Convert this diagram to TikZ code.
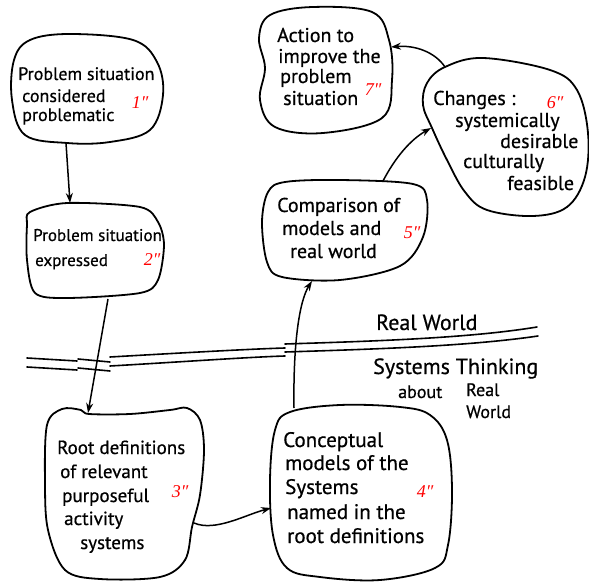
\documentclass[tikz,border=0pt]{standalone}
\usepackage{fontspec}
\setmainfont{PT Sans}[FakeBold=0.6]
\newfontfamily\labfont{Liberation Serif}
\usetikzlibrary{arrows.meta}
\tikzset{
  blob/.style={draw=black,line width=1.8pt,line join=round},
  conn/.style={draw=black,line width=1.5pt,-{Stealth[length=10pt,width=7pt]}},
  rule/.style={draw=black,line width=1.6pt,line cap=round},
  txt/.style={anchor=base west,inner sep=0pt,font=\fontsize{20}{24}\selectfont},
  txta/.style={txt,font=\fontsize{18}{22}\selectfont},
  txtb/.style={txt,font=\fontsize{17}{21}\selectfont},
  txtc/.style={txt,font=\fontsize{19}{23}\selectfont},
  txtd/.style={txt,font=\fontsize{21}{25}\selectfont},
  txtbig/.style={txt,font=\fontsize{22}{26}\selectfont},
  lab/.style={inner sep=0pt,text=red,font=\labfont\itshape\fontsize{18}{20}\selectfont}
}
\begin{document}
\begin{tikzpicture}[x=1pt,y=-1pt]
\useasboundingbox (0,0) rectangle (589,585);
% ---- blobs ----
\draw[blob] plot[smooth cycle,tension=0.6] coordinates {(14,60)(30,40)(70,34)(133,40)(157,62)(163,95)(150,130)(110,142)(67,143)(25,135)(12,100)};
\draw[blob] plot[smooth cycle,tension=0.5] coordinates {(30,212)(67,203)(140,207)(158,222)(164,245)(158,280)(140,293)(67,298)(35,293)(27,260)(27,225)};
\draw[blob] plot[smooth cycle,tension=0.55] coordinates {(47,425)(62,409)(81,410)(89,414)(130,414)(170,410)(187,408)(200,420)(204,450)(200,495)(192,527)(185,560)(160,577)(100,579)(65,570)(48,530)(45,483)};
\draw[blob] plot[smooth cycle,tension=0.6] coordinates {(275,430)(290,412)(340,405)(400,407)(430,415)(447,440)(452,490)(448,545)(435,568)(380,580)(320,577)(287,568)(273,535)(270,480)};
\draw[blob] plot[smooth cycle,tension=0.55] coordinates {(268,192)(285,182)(340,180)(413,184)(427,200)(423,237)(400,266)(340,280)(282,277)(267,262)(262,222)};
\draw[blob] plot[smooth cycle,tension=0.6] coordinates {(427,83)(445,67)(483,58)(550,70)(577,90)(588,133)(585,177)(567,207)(533,216)(487,210)(465,192)(447,160)(432,128)(423,105)};
\draw[blob] plot[smooth cycle,tension=0.6] coordinates {(259,38)(270,15)(313,7)(372,12)(389,40)(392,80)(382,118)(323,133)(275,127)(260,100)(265,68)};
% ---- texts ----
\node[txta] (t1a) at (18,80) {Problem situation};
\node[txta] (t1b) at (22,102) {considered};
\node[txta] (t1c) at (22,121) {problematic};
\node[lab] (l1) at (140,103) {1″};
\node[txtb] (t2a) at (33,241) {Problem situation};
\node[txtb] (t2b) at (35,266) {expressed};
\node[lab] (l2) at (152,260) {2″};
\node[txtc] (t3a) at (57,454) {Root definitions};
\node[txtc] (t3b) at (60,478) {of relevant};
\node[txtc] (t3c) at (62,502) {purposeful};
\node[txtc] (t3d) at (64,525) {activity};
\node[txtc] (t3e) at (80,549) {systems};
\node[lab] (l3) at (180,492) {3″};
\node[txtd] (t4a) at (283,447) {Conceptual};
\node[txtd] (t4b) at (285,470) {models of the};
\node[txtd] (t4c) at (285,494) {Systems};
\node[txtd] (t4d) at (287,519) {named in the};
\node[txtd] (t4e) at (287,543) {root definitions};
\node[lab] (l4) at (425,492) {4″};
\node[txt] (t5a) at (277,212) {Comparison of};
\node[txt] (t5b) at (282,235) {models and};
\node[txt] (t5c) at (290,258) {real world};
\node[lab] (l5) at (412,233) {5″};
\node[txt] (t6a) at (433,105) {Changes :};
\node[txt] (t6b) at (455,127) {systemically};
\node[txt] (t6c) at (500,148) {desirable};
\node[txt] (t6d) at (463,168) {culturally};
\node[txt] (t6e) at (507,190) {feasible};
\node[lab] (l6) at (555,103) {6″};
\node[txt] (t7a) at (277,42) {Action to};
\node[txt] (t7b) at (278,63) {improve the};
\node[txt] (t7c) at (280,83) {problem};
\node[txt] (t7d) at (283,105) {situation};
\node[lab] (l7) at (373,90) {7″};
% ---- boundary ----
\draw[rule] (27,358) -- (77,361);
\draw[rule] (78,359) -- (110,362);
\draw[rule] (110,357) .. controls (180,353) and (250,349) .. (285,348);
\draw[rule] (285,344) .. controls (380,341) and (470,338) .. (537,327);
\draw[rule] (27,367) -- (77,370);
\draw[rule] (78,368) -- (110,371);
\draw[rule] (110,366) .. controls (180,362) and (250,357) .. (285,356);
\draw[rule] (285,352) .. controls (380,349) and (470,346) .. (538,336);
\node[txtbig] (rw) at (376,330) {Real World};
\node[txtbig] (st) at (373,374) {Systems Thinking};
\node[txta] (ab) at (398,398) {about};
\node[txta] (rl) at (466,396) {Real};
\node[txta] (wd) at (466,418) {World};
% ---- connector ends ----
\coordinate (b1s) at (66,143);
\coordinate (b2n) at (70,203);
\coordinate (b2s) at (108,299);
\coordinate (b3n) at (88,413);
\coordinate (b3e) at (194,523);
\coordinate (b4w) at (271,508);
\coordinate (b4n) at (294,408);
\coordinate (b5s) at (312,281);
\coordinate (b5n) at (383,181);
\coordinate (b6w) at (431,128);
\coordinate (b6n) at (445,67);
\coordinate (b7e) at (391,47);
% ---- connectors ----
\draw[conn] (b1s) -- (b2n);
\draw[conn] (b2s) -- (b3n);
\draw[conn] (b3e) .. controls (215,532) and (245,515) .. (b4w);
\draw[conn] (b4n) .. controls (293,340) and (300,300) .. (b5s);
\draw[conn] (b5n) .. controls (395,158) and (410,140) .. (b6w);
\draw[conn] (b6n) .. controls (435,52) and (415,45) .. (b7e);
\end{tikzpicture}
\end{document}
